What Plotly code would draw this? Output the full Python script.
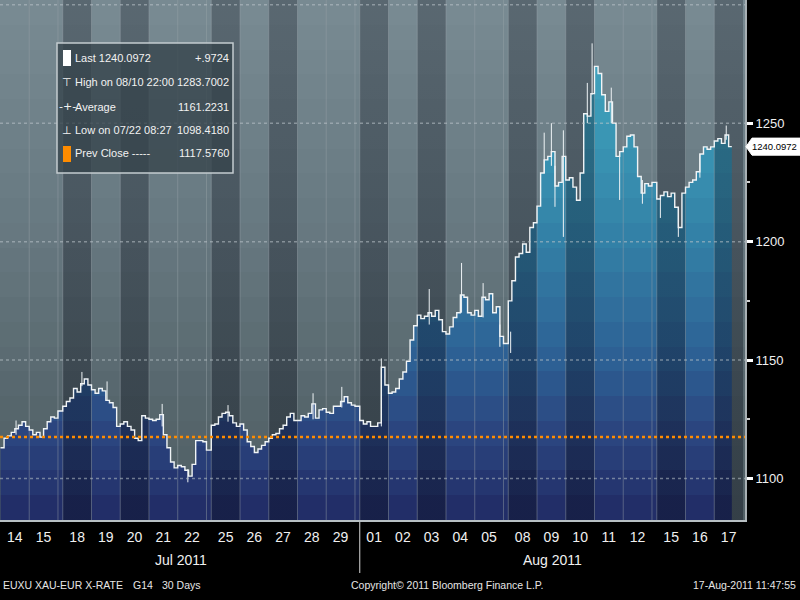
import plotly.graph_objects as go
import pandas as pd

# ---------------- data ----------------
weekday_dates = ["2011-07-14", "2011-07-15", "2011-07-18", "2011-07-19", "2011-07-20",
                 "2011-07-21", "2011-07-22", "2011-07-25", "2011-07-26", "2011-07-27",
                 "2011-07-28", "2011-07-29", "2011-08-01", "2011-08-02", "2011-08-03",
                 "2011-08-04", "2011-08-05", "2011-08-08", "2011-08-09", "2011-08-10",
                 "2011-08-11", "2011-08-12", "2011-08-15", "2011-08-16", "2011-08-17"]

# 3-hour closes per trading day
closes_3h = [
    [1113, 1117, 1118, 1119.5, 1121, 1122.5, 1124, 1122],            # Jul 14
    [1120.5, 1118.5, 1119.5, 1117.5, 1121, 1124, 1126, 1125.5],      # Jul 15
    [1130.5, 1132.5, 1134, 1138, 1136.5, 1140, 1142, 1139.5],        # Jul 18
    [1137.5, 1136, 1138, 1137, 1133, 1132, 1130, 1122],              # Jul 19
    [1123, 1124, 1122, 1120.5, 1117, 1116, 1126.5, 1125.5],          # Jul 20
    [1125, 1124.5, 1125, 1127, 1118.5, 1113, 1107, 1104.5],          # Jul 21
    [1105.5, 1105, 1103.5, 1101, 1106, 1116, 1116, 1115.5],          # Jul 22
    [1122.5, 1123, 1126, 1127.5, 1128, 1126.5, 1123.5, 1122],        # Jul 25
    [1123, 1120.5, 1115.5, 1113.5, 1111, 1112.5, 1114, 1115.5],      # Jul 26
    [1117, 1118.5, 1119, 1121, 1122.5, 1126, 1127.5, 1124.5],        # Jul 27
    [1124.5, 1126.5, 1126, 1127.5, 1131.5, 1125.5, 1129, 1129.5],    # Jul 28
    [1128, 1127.5, 1130.5, 1130.5, 1132.5, 1134.5, 1132, 1131],      # Jul 29
    [1124.5, 1123, 1124, 1122, 1122, 1123.5, 1147, 1139.5],          # Aug 01
    [1136, 1136.5, 1138, 1142, 1145, 1149.5, 1158.5, 1164.5],        # Aug 02
    [1169, 1167.5, 1168.5, 1170, 1168.5, 1171, 1167, 1162],          # Aug 03
    [1161, 1164, 1168, 1170, 1177.5, 1176.5, 1170, 1169],            # Aug 04
    [1171, 1168.5, 1176.5, 1175.5, 1178, 1170, 1172.5, 1160],        # Aug 05
    [1175, 1183.5, 1193.5, 1195, 1199, 1195.5, 1206, 1208],          # Aug 08
    [1215, 1229, 1234.5, 1236, 1238, 1223.5, 1225, 1236],            # Aug 09
    [1226, 1227, 1223, 1217.5, 1229, 1254, 1253, 1262.5],            # Aug 10
    [1274, 1271, 1262, 1255, 1259, 1250, 1236, 1238],                # Aug 11
    [1240, 1244.5, 1245, 1240, 1227.5, 1220.5, 1224.5, 1223.5],      # Aug 12
    [1218, 1219.5, 1221, 1219, 1220.5, 1214.5, 1206, 1220.5],        # Aug 15
    [1223, 1225, 1226, 1229.5, 1237, 1240, 1239, 1240],              # Aug 16
    [1242.5, 1243.5, 1241.5, 1245, 1240.0972],                       # Aug 17
]

# Sunday evening sessions
sunday_dates = ["2011-07-17", "2011-07-24", "2011-07-31", "2011-08-07", "2011-08-14"]
sunday_close = [1128.5, 1112, 1130.5, 1157, 1225]
sunday_open_hour = 20
last_time = "2011-08-17 14:40"

# notable high/low wicks
spike_time = ["2011-07-14 13:00", "2011-07-18 16:00", "2011-07-19 13:00", "2011-07-21 11:00",
              "2011-07-22 08:27", "2011-07-25 14:00", "2011-07-28 13:00", "2011-07-29 13:00",
              "2011-08-01 18:00", "2011-08-03 10:00", "2011-08-04 13:00", "2011-08-05 07:00",
              "2011-08-05 21:00", "2011-08-08 02:00", "2011-08-09 06:00", "2011-08-09 12:00",
              "2011-08-09 15:00", "2011-08-09 22:00", "2011-08-10 18:00", "2011-08-10 22:00",
              "2011-08-11 14:00", "2011-08-11 21:00", "2011-08-12 16:00", "2011-08-15 03:00",
              "2011-08-15 18:00", "2011-08-16 12:00", "2011-08-17 10:00"]
spike_low = [1118.5, 1139, 1133, 1122, 1098.418, 1124, 1125, 1130, 1122, 1165, 1170, 1168,
             1155.6, 1153, 1229, 1232, 1214.7, 1202, 1250, 1262, 1250, 1217.6, 1216, 1210,
             1202, 1227, 1243]
spike_high = [1124.5, 1145, 1141, 1131.5, 1104, 1131, 1136, 1138.7, 1150.7, 1180, 1191, 1182.5,
              1165, 1162, 1246, 1250, 1232, 1247, 1267, 1283.7002, 1265, 1238, 1226, 1218,
              1214.5, 1237, 1249]

prev_close = 1117.5760
last_value = 1240.0972
y_ticks = [1100, 1150, 1200, 1250]
y_grid = [1100, 1150, 1200, 1250, 1300]
y_minor = [1125, 1175, 1225]
y_range = [1082.5, 1302]
x_range = ["2011-07-13 23:36", "2011-08-18 01:40"]

legend_rows = [("Last 1240.0972", "+.9724"), ("High on 08/10 22:00", "1283.7002"),
               ("Average", "1161.2231"), ("Low on 07/22 08:27", "1098.4180"),
               ("Prev Close -----", "1117.5760")]

FONT = "Liberation Sans, Arial, sans-serif"

# ---------------- build series ----------------
xs, ys = [], []
sessions = []  # (start, end)
sun_map = dict(zip(sunday_dates, sunday_close))
for d, vals in zip(weekday_dates, closes_3h):
    day = pd.Timestamp(d)
    sun = (day - pd.Timedelta(days=1)).strftime("%Y-%m-%d")
    if sun in sun_map:
        s0 = pd.Timestamp(sun) + pd.Timedelta(hours=sunday_open_hour)
        xs.append(s0); ys.append(sun_map[sun])
        sessions.append((s0, day))
    for k, v in enumerate(vals):
        xs.append(day + pd.Timedelta(hours=3 * k)); ys.append(v)
    sessions.append((day, day + pd.Timedelta(days=1)))
xs.append(pd.Timestamp(last_time)); ys.append(ys[-1])


def stepped_scale(stops, n, vmin, vmax):
    def col(v):
        for (a, ca), (b, cb) in zip(stops[:-1], stops[1:]):
            if a <= v <= b:
                t = (v - a) / (b - a)
                return tuple(int(round(ca[i] + (cb[i] - ca[i]) * t)) for i in range(3))
        return stops[-1][1] if v > stops[-1][0] else stops[0][1]
    cs = []
    for i in range(n):
        f0, f1 = i / n, (i + 1) / n
        c = col(vmin + (f0 + f1) / 2 * (vmax - vmin))
        cstr = "rgb(%d,%d,%d)" % c
        cs.append([f0, cstr]); cs.append([f1, cstr])
    return cs


bg_scale = stepped_scale([(y_range[0], (80, 95, 101)), (1130, (86, 102, 108)),
                          (1200, (102, 119, 127)), (y_range[1], (121, 139, 147))], 21, *y_range)
fill_scale = stepped_scale([(y_range[0], (32, 42, 100)), (1120, (43, 70, 128)),
                            (1150, (45, 96, 148)), (1200, (51, 128, 166)),
                            (1250, (59, 153, 182)), (y_range[1], (72, 170, 196))], 21, *y_range)

fig = go.Figure()

x0r, x1r = pd.Timestamp(x_range[0]), pd.Timestamp(x_range[1])
fig.add_trace(go.Scatter(x=[x0r, x1r, x1r, x0r, x0r],
                         y=[y_range[0], y_range[0], y_range[1], y_range[1], y_range[0]],
                         fill="toself", mode="lines", line=dict(width=0),
                         fillgradient=dict(type="vertical", colorscale=bg_scale,
                                           start=y_range[0], stop=y_range[1]),
                         hoverinfo="skip", showlegend=False))

fig.add_trace(go.Scatter(x=xs, y=ys, mode="lines", line=dict(width=0, shape="hv"),
                         fill="tozeroy",
                         fillgradient=dict(type="vertical", colorscale=fill_scale,
                                           start=y_range[0], stop=y_range[1]),
                         hoverinfo="skip", showlegend=False))

# alternating dark session columns
tx, ty = [], []
for i, (s0, s1) in enumerate(sessions):
    if i % 2 == 1:
        tx += [s0, s1, s1, s0, s0, None]
        ty += [y_range[0], y_range[0], y_range[1], y_range[1], y_range[0], None]
fig.add_trace(go.Scatter(x=tx, y=ty, fill="toself", mode="lines", line=dict(width=0),
                         fillgradient=dict(type="vertical",
                                           colorscale=[[0, "rgba(6,10,22,0.38)"],
                                                       [1, "rgba(6,10,22,0.27)"]],
                                           start=y_range[0], stop=y_range[1]),
                         hoverinfo="skip", showlegend=False))

# thin session separators
sx, sy = [], []
for s0, s1 in sessions[1:]:
    sx += [s0, s0, None]
    sy += [y_range[0], y_range[1], None]
fig.add_trace(go.Scatter(x=sx, y=sy, mode="lines",
                         line=dict(color="rgba(150,162,168,0.45)", width=1),
                         hoverinfo="skip", showlegend=False))

# wicks
wx, wy = [], []
for t, lo, hi in zip(spike_time, spike_low, spike_high):
    wx += [pd.Timestamp(t), pd.Timestamp(t), None]
    wy += [lo, hi, None]
fig.add_trace(go.Scatter(x=wx, y=wy, mode="lines", line=dict(color="#eef3f5", width=1),
                         hoverinfo="skip", showlegend=False))

fig.add_trace(go.Scatter(x=xs, y=ys, mode="lines",
                         line=dict(color="#f0f4f6", width=1.4, shape="hv"),
                         hoverinfo="skip", showlegend=False))

W, H = 745.0, 520.0
def PX(x): return x / W
def PY(y): return 1 - y / H

shapes = []
for v in y_grid:
    shapes.append(dict(type="line", xref="paper", yref="y", x0=0, x1=1, y0=v, y1=v,
                       line=dict(color="rgba(185,195,200,0.55)", width=1.5, dash="dot"),
                       layer="above"))
shapes.append(dict(type="line", xref="paper", yref="y", x0=0, x1=1, y0=prev_close, y1=prev_close,
                   line=dict(color="#ff8c00", width=2.5, dash="dot"), layer="above"))
shapes.append(dict(type="line", xref="x", yref="paper", x0="2011-08-01", x1="2011-08-01",
                   y0=PY(522), y1=PY(573), line=dict(color="#d8d8d8", width=1)))
shapes.append(dict(type="rect", xref="paper", yref="paper", x0=PX(57), x1=PX(233),
                   y0=PY(173), y1=PY(43), fillcolor="rgba(52,66,74,0.78)",
                   line=dict(color="#c4ccd0", width=1.5), layer="above"))
shapes.append(dict(type="rect", xref="paper", yref="paper", x0=PX(63), x1=PX(71),
                   y0=PY(66), y1=PY(50), fillcolor="#ffffff", line=dict(width=0), layer="above"))
shapes.append(dict(type="rect", xref="paper", yref="paper", x0=PX(63), x1=PX(71),
                   y0=PY(162), y1=PY(146), fillcolor="#ff8c00", line=dict(width=0), layer="above"))
shapes.append(dict(type="path", xref="paper", yref="y",
                   path="M %f,%f L %f,%f L %f,%f L %f,%f L %f,%f Z" % (
                       PX(746), last_value, PX(752), last_value + 3.6, PX(800), last_value + 3.6,
                       PX(800), last_value - 3.6, PX(752), last_value - 3.6),
                   fillcolor="#ffffff", line=dict(color="#ffffff", width=1)))

ann = []
row_y = [58, 82, 107, 130, 153]
icons = ["", "⊤", "-+-", "⊥", ""]
for (lt, rt), yy, ic in zip(legend_rows, row_y, icons):
    ann.append(dict(xref="paper", yref="paper", x=PX(73), y=PY(yy), text=lt, showarrow=False,
                    xanchor="left", yanchor="middle", font=dict(family=FONT, size=11, color="#f2f2f2")))
    ann.append(dict(xref="paper", yref="paper", x=PX(231), y=PY(yy), text=rt, showarrow=False,
                    xanchor="right", yanchor="middle", font=dict(family=FONT, size=11, color="#f2f2f2")))
    if ic:
        ann.append(dict(xref="paper", yref="paper", x=PX(67), y=PY(yy), text=ic, showarrow=False,
                        xanchor="center", yanchor="middle",
                        font=dict(family="DejaVu Sans, sans-serif", size=11, color="#f2f2f2")))

ann.append(dict(xref="paper", yref="y", x=PX(751), y=last_value, text="1240.0972",
                showarrow=False, xanchor="left", yanchor="middle", borderpad=0,
                font=dict(family=FONT, size=9.5, color="#000000")))
ann.append(dict(xref="paper", yref="paper", x=PX(181), y=PY(560), text="Jul 2011", showarrow=False,
                xanchor="center", yanchor="middle", font=dict(family=FONT, size=14, color="#f0f0f0")))
ann.append(dict(xref="paper", yref="paper", x=PX(552), y=PY(560), text="Aug 2011", showarrow=False,
                xanchor="center", yanchor="middle", font=dict(family=FONT, size=14, color="#f0f0f0")))
footer = [(1, "left", "EUXU"), (33, "left", "XAU-EUR X-RATE"), (131, "left", "G14"),
          (160, "left", "30 Days"), (349, "left", "Copyright\u00a9 2011 Bloomberg Finance L.P."),
          (798, "right", "17-Aug-2011 11:47:55")]
for x, anc, t in footer:
    ann.append(dict(xref="paper", yref="paper", x=PX(x), y=PY(585), text=t, showarrow=False,
                    xanchor=anc, yanchor="middle", font=dict(family=FONT, size=10.5, color="#e6e6e6")))

tickvals = [pd.Timestamp(d) + pd.Timedelta(hours=12) for d in weekday_dates]
ticktext = [pd.Timestamp(d).strftime("%d") for d in weekday_dates]

fig.update_layout(
    width=800, height=600, margin=dict(l=0, r=55, t=0, b=80),
    paper_bgcolor="#000000", plot_bgcolor="#50606a",
    shapes=shapes, annotations=ann, showlegend=False,
    xaxis=dict(type="date", range=x_range, showgrid=False, zeroline=False,
               rangebreaks=[dict(values=["2011-07-16", "2011-07-23", "2011-07-30",
                                         "2011-08-06", "2011-08-13"],
                                 dvalue=(24 + sunday_open_hour) * 3600 * 1000)],
               tickmode="array", tickvals=tickvals, ticktext=ticktext, ticks="",
               tickfont=dict(family=FONT, size=14, color="#f0f0f0"),
               showline=True, linecolor="#b8c0c4", linewidth=2, ticklabelstandoff=3),
    yaxis=dict(side="right", range=y_range, showgrid=False, zeroline=False,
               tickmode="array", tickvals=y_ticks, ticks="outside", ticklen=6,
               tickwidth=3, tickcolor="#ffffff",
               minor=dict(tickvals=y_minor, ticks="outside", ticklen=3, tickwidth=2,
                          tickcolor="#d0d0d0"),
               tickfont=dict(family=FONT, size=13, color="#f0f0f0"),
               showline=True, linecolor="#a8b0b4", linewidth=2),
)

fig.write_html("out.html", config={"displayModeBar": False},
               post_script="document.body.style.margin='0px';"
                           "document.body.style.background='#000000';")
